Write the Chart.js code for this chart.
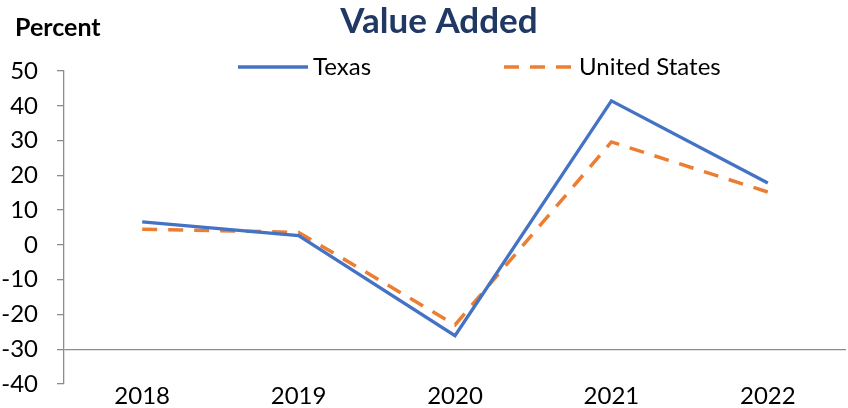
<!DOCTYPE html>
<html>
<head>
<meta charset="utf-8">
<script src="https://cdn.jsdelivr.net/npm/chart.js@4.4.1/dist/chart.umd.min.js"></script>
<style>
  html, body { margin: 0; padding: 0; background: #ffffff; overflow: hidden; }
  canvas { display: block; }
</style>
</head>
<body>
<canvas id="chart1" width="848" height="408"></canvas>
<script>
var years 		= ['2018', '2019', '2020', '2021', '2022'];
var texas 		= [6.6, 2.7, -26.1, 41.4, 17.8];
var unitedStates 	= [4.5, 3.6, -23.0, 29.6, 15.2];
var yTicks 		= [50, 40, 30, 20, 10, 0, -10, -20, -30, -40];

var FONT = 'Lato, "Open Sans", sans-serif';
var AXIS_GREY = '#8c8c8c';

// title, "Percent" and the legend are drawn by hand so they sit where the original has them
var headerPlugin = {
	id: 'header',
	afterDraw: function(chart) {
		var ctx = chart.ctx;
		var sets = chart.data.datasets;
		ctx.save();
		ctx.textBaseline = 'alphabetic';

		ctx.fillStyle = '#000000';
		ctx.font = 'bold 25px ' + FONT;
		ctx.textAlign = 'left';
		ctx.fillText('Percent', 15, 36);

		ctx.fillStyle = '#1f3864';
		ctx.font = 'bold 35px ' + FONT;
		ctx.textAlign = 'center';
		ctx.fillText('Value Added', 439, 33);

		var items = [
			{ x: 238, ds: sets[0] },
			{ x: 504, ds: sets[1] }
		];
		ctx.font = '24px ' + FONT;
		ctx.textAlign = 'left';
		items.forEach(function(it) {
			ctx.beginPath();
			ctx.strokeStyle = it.ds.borderColor;
			ctx.lineWidth = it.ds.borderWidth;
			ctx.setLineDash(it.ds.borderDash || []);
			ctx.moveTo(it.x, 67);
			ctx.lineTo(it.x + 70, 67);
			ctx.stroke();
			ctx.setLineDash([]);
			ctx.fillStyle = '#000000';
			ctx.fillText(it.ds.label, it.x + 75, 75);
		});
		ctx.restore();
	}
};

var ctx1 = document.getElementById('chart1').getContext('2d');
var valueChart = new Chart(ctx1, {
	type: 'line',
	data: {
		labels: years,
		datasets: [
			{
				label: 'Texas',
				data: texas,
				borderColor: '#4472c4',
				backgroundColor: '#4472c4',
				borderWidth: 3.3,
				pointRadius: 0,
				tension: 0
			},
			{
				label: 'United States',
				data: unitedStates,
				borderColor: '#ed7d31',
				backgroundColor: '#ed7d31',
				borderWidth: 3.5,
				borderDash: [15, 11],
				pointRadius: 0,
				tension: 0
			}
		]
	},
	options: {
		responsive: false,
		animation: false,
		layout: { padding: { top: 71, right: 2, left: 0, bottom: 0 } },
		plugins: {
			legend: { display: false },
			title: { display: false },
			tooltip: { enabled: false }
		},
		scales: {
			x: {
				offset: true,
				grid: { display: false, drawTicks: false },
				border: { display: false },
				ticks: { color: '#000000', font: { family: FONT, size: 24 }, padding: -2 },
				afterFit: function(scale) { scale.height = 24; }
			},
			y: {
				min: -40,
				max: 50,
				afterBuildTicks: function(scale) {
					scale.ticks = yTicks.map(function(v) { return { value: v }; });
				},
				grid: {
					// only the -30 line is drawn across, like the original
					color: function(c) { return c.tick && c.tick.value === -30 ? AXIS_GREY : 'rgba(0,0,0,0)'; },
					tickColor: AXIS_GREY,
					tickLength: 7,
					lineWidth: 1.3
				},
				border: { display: true, color: AXIS_GREY, width: 1.3 },
				ticks: { color: '#000000', font: { family: FONT, size: 24 }, padding: 19 },
				afterFit: function(scale) {
					scale.width = 64;
					// the label padding would otherwise push the plot bottom up
					scale.paddingTop = 0;
					scale.paddingBottom = 0;
				}
			}
		}
	},
	plugins: [headerPlugin]
});
</script>
</body>
</html>
